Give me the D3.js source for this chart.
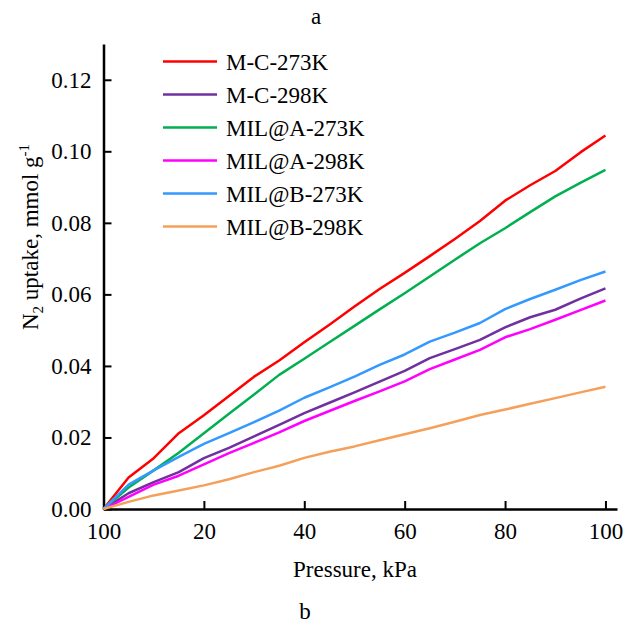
<!DOCTYPE html>
<html>
<head>
<meta charset="utf-8">
<script src="https://cdn.jsdelivr.net/npm/d3@7"></script>
<style>
  html, body { margin: 0; padding: 0; background: #fff; }
  svg { display: block; }
  svg text { font-family: "Times New Roman", "Liberation Serif", Tinos, "DejaVu Serif", serif !important; fill: #000; }
</style>
</head>
<body>
<svg id="chart" width="633" height="623"></svg>
<script>
const pressure = [0, 5, 10, 15, 20, 25, 30, 35, 40, 45, 50, 55, 60, 65, 70, 75, 80, 85, 90, 95, 100];
const mc273   = [0, 0.0088, 0.0142, 0.0212, 0.0262, 0.0316, 0.0370, 0.0415, 0.0466, 0.0515, 0.0566, 0.0615, 0.0660, 0.0707, 0.0755, 0.0805, 0.0862, 0.0905, 0.0945, 0.0997, 0.1044];
const mc298   = [0, 0.0044, 0.0075, 0.0103, 0.0142, 0.0171, 0.0203, 0.0235, 0.0268, 0.0297, 0.0326, 0.0356, 0.0386, 0.0422, 0.0447, 0.0473, 0.0508, 0.0536, 0.0557, 0.0588, 0.0617];
const milA273 = [0, 0.0060, 0.0108, 0.0157, 0.0212, 0.0266, 0.0320, 0.0375, 0.0420, 0.0466, 0.0512, 0.0558, 0.0603, 0.0650, 0.0697, 0.0743, 0.0785, 0.0830, 0.0874, 0.0912, 0.0948];
const milA298 = [0, 0.0034, 0.0068, 0.0093, 0.0125, 0.0156, 0.0185, 0.0214, 0.0246, 0.0274, 0.0302, 0.0329, 0.0357, 0.0391, 0.0418, 0.0445, 0.0480, 0.0503, 0.0529, 0.0556, 0.0583];
const milB273 = [0, 0.0068, 0.0108, 0.0146, 0.0182, 0.0212, 0.0243, 0.0275, 0.0311, 0.0340, 0.0370, 0.0403, 0.0432, 0.0468, 0.0493, 0.0520, 0.0559, 0.0587, 0.0613, 0.0640, 0.0664];
const milB298 = [0, 0.0020, 0.0038, 0.0052, 0.0066, 0.0083, 0.0103, 0.0121, 0.0143, 0.0160, 0.0175, 0.0192, 0.0209, 0.0226, 0.0244, 0.0263, 0.0278, 0.0294, 0.0310, 0.0326, 0.0342];

const seriesNames = ["M-C-273K", "M-C-298K", "MIL@A-273K", "MIL@A-298K", "MIL@B-273K", "MIL@B-298K"];
const seriesValues = [mc273, mc298, milA273, milA298, milB273, milB298];
const seriesColors = ["#ff0000", "#7030a0", "#00b050", "#ff00ff", "#3399ff", "#f5a05a"];

const xTickValues = [0, 20, 40, 60, 80, 100];
const xTickLabels = ["100", "20", "40", "60", "80", "100"];
const yTickValues = [0, 0.02, 0.04, 0.06, 0.08, 0.10, 0.12];

const svg = d3.select("#chart");
const FS = 23;
const FONT = '"Times New Roman", "Liberation Serif", serif';

const x = d3.scaleLinear().domain([0, 102.3]).range([103.5, 617]);
const y = d3.scaleLinear().domain([0, 0.13]).range([509, 44]);

// axes
const xAxis = d3.axisBottom(x).tickValues(xTickValues)
  .tickFormat((d, i) => xTickLabels[i]).tickSizeInner(-8).tickSizeOuter(0).tickPadding(14);
const gx = svg.append("g").attr("transform", `translate(0,${y(0)})`).call(xAxis)
  .attr("font-family", FONT).attr("font-size", FS);
gx.select(".domain").attr("stroke", "#000").attr("stroke-width", 2.5);
gx.selectAll(".tick line").attr("stroke", "#000").attr("stroke-width", 2);
gx.selectAll(".tick text").attr("fill", "#000");

const yAxis = d3.axisLeft(y).tickValues(yTickValues)
  .tickFormat(d3.format(".2f")).tickSizeInner(-8).tickSizeOuter(0).tickPadding(12);
const gy = svg.append("g").attr("transform", `translate(${x(0)},0)`).call(yAxis)
  .attr("font-family", FONT).attr("font-size", FS);
gy.select(".domain").attr("stroke", "#000").attr("stroke-width", 2.5);
gy.selectAll(".tick line").attr("stroke", "#000").attr("stroke-width", 2);
gy.selectAll(".tick text").attr("fill", "#000");

// lines
const line = d3.line().x((d, i) => x(pressure[i])).y(d => y(d));
seriesValues.forEach((vals, k) => {
  svg.append("path").datum(vals)
    .attr("fill", "none").attr("stroke", seriesColors[k])
    .attr("stroke-width", 2.5).attr("stroke-linejoin", "round")
    .attr("d", line);
});

// legend
const legend = svg.append("g").attr("font-family", FONT);
seriesNames.forEach((name, k) => {
  const ly = 61.5 + k * 33;
  legend.append("line").attr("x1", 163).attr("x2", 217).attr("y1", ly).attr("y2", ly)
    .attr("stroke", seriesColors[k]).attr("stroke-width", 2.5);
  legend.append("text").attr("x", 226).attr("y", ly).attr("dy", "0.35em")
    .attr("font-size", FS).text(name);
});

// axis titles
svg.append("text").attr("x", 355).attr("y", 577).attr("text-anchor", "middle")
  .attr("font-family", FONT).attr("font-size", FS).text("Pressure, kPa");

const yl = svg.append("text").attr("transform", "translate(38,237) rotate(-90)")
  .attr("text-anchor", "middle").attr("font-family", FONT).attr("font-size", FS);
yl.append("tspan").text("N");
yl.append("tspan").attr("font-size", 15).attr("dy", 5).text("2");
yl.append("tspan").attr("dy", -5).text(" uptake, mmol g");
yl.append("tspan").attr("font-size", 15).attr("dy", -9).text("-1");

// panel labels
svg.append("text").attr("x", 316).attr("y", 24).attr("text-anchor", "middle").attr("font-family", FONT).attr("font-size", FS).text("a");
svg.append("text").attr("x", 305).attr("y", 619).attr("text-anchor", "middle").attr("font-family", FONT).attr("font-size", FS).text("b");
</script>
</body>
</html>
